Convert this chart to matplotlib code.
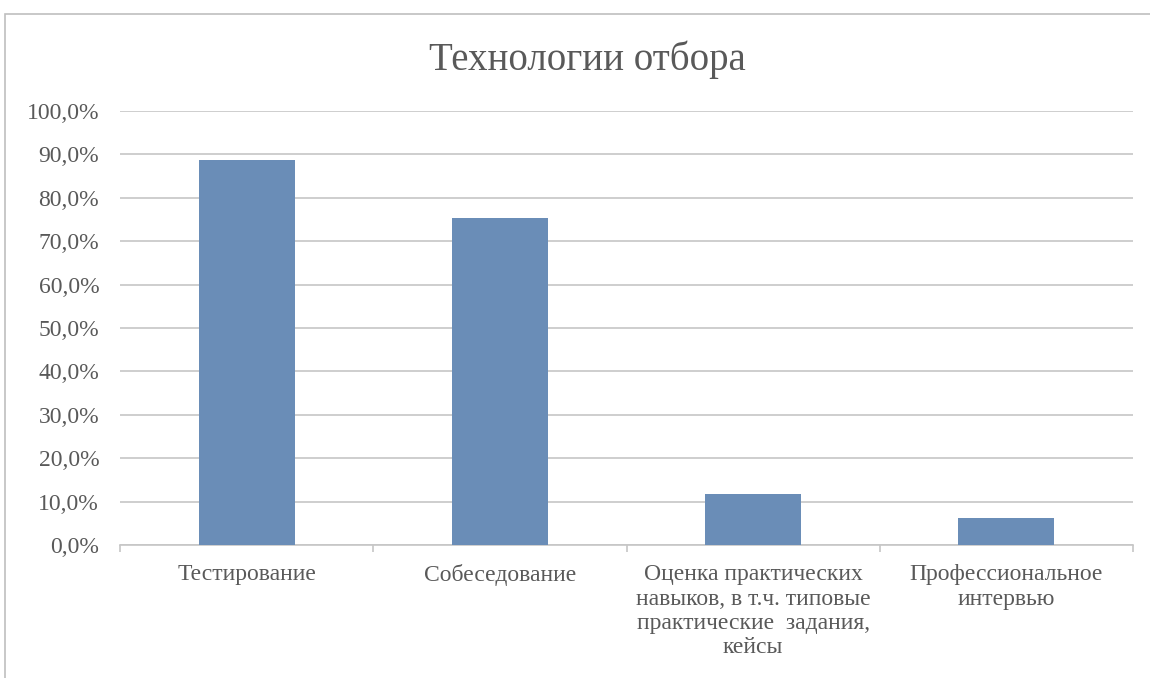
import matplotlib
matplotlib.use("Agg")
import matplotlib.pyplot as plt
from matplotlib.patches import Rectangle
from matplotlib.ticker import FuncFormatter

categories = [
    "Тестирование",
    "Собеседование",
    "Оценка практических\nнавыков, в т.ч. типовые\nпрактические  задания,\nкейсы",
    "Профессиональное\nинтервью",
]
values = [0.887, 0.754, 0.117, 0.062]
title = "Технологии отбора"

serif = ['Liberation Serif', 'DejaVu Serif']
plt.rcParams['font.family'] = serif
text_color = "#595959"
grid_color = "#c6c6c6"
bar_color = "#6a8db7"

fig = plt.figure(figsize=(11.5, 6.78), dpi=100)
fig.patch.set_facecolor("white")

# outer chart border
fig.patches.append(Rectangle((5/1150, -0.05), 1.2, 1 - 14/678 + 0.05,
                             transform=fig.transFigure, fill=False,
                             edgecolor="#bfbfbf", linewidth=1.2))

ax = fig.add_axes([120/1150, 1 - 545/678, (1133 - 120)/1150, (545 - 111)/678])
x = list(range(len(categories)))
ax.bar(x, values, width=0.38, color=bar_color, zorder=3)
ax.set_xlim(-0.5, len(categories) - 0.5)
ax.set_ylim(0, 1.0)
ax.set_yticks([i/10 for i in range(11)])
ax.yaxis.set_major_formatter(FuncFormatter(lambda v, p: f"{v*100:.1f}%".replace(".", ",")))
ax.grid(axis="y", color=grid_color, linewidth=1.2, zorder=0)
for s in ["left", "right", "top"]:
    ax.spines[s].set_visible(False)
ax.spines["bottom"].set_color(grid_color)
ax.spines["bottom"].set_linewidth(1.2)
ax.tick_params(axis="y", length=0, pad=15, labelsize=17, labelcolor=text_color)
ax.set_xticks(x)
ax.set_xticklabels(categories, fontsize=17, color=text_color, linespacing=1.2,
                   fontfamily=serif)
ax.tick_params(axis="x", length=0, pad=14)
for lbl in ax.get_yticklabels():
    lbl.set_fontfamily(serif)
# category boundary ticks
ax.set_xticks([i - 0.5 for i in range(len(categories) + 1)], minor=True)
ax.tick_params(axis="x", which="minor", length=5, color=grid_color, width=1.2)
for lbl in ax.get_xticklabels():
    lbl.set_verticalalignment("top")

fig.text(587/1150, 1 - 60/678, title, ha="center", va="center",
         fontsize=28, color=text_color, fontfamily=serif)

fig.savefig("out.png", dpi=100)
